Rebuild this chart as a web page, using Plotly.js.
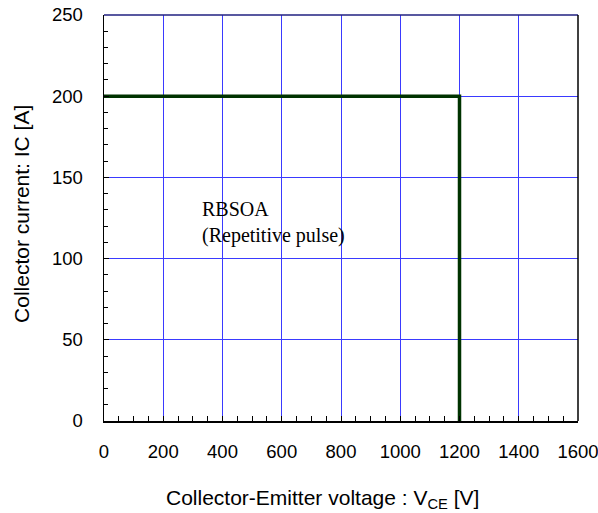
<!DOCTYPE html>
<html>
<head>
<meta charset="utf-8">
<script src="https://cdn.plot.ly/plotly-3.0.1.min.js"></script>
<style>html,body{margin:0;padding:0;background:#fff;}#chart{width:598px;height:513px;}</style>
</head>
<body>
<div id="chart"></div>
<script>
// Reverse-bias safe operating area boundary
var vce = [0, 1200, 1200];
var ic = [200, 200, 0];

var xTicks = [0, 200, 400, 600, 800, 1000, 1200, 1400, 1600];
var yTicks = [0, 50, 100, 150, 200, 250];

var xTitle = 'Collector-Emitter voltage : V<sub>CE</sub> [V]';
var yTitle = 'Collector current: IC [A]';
var areaLabel = 'RBSOA<br>(Repetitive pulse)';

var gridBlue = '#3a3aff';
var sans = 'Liberation Sans, Arial, sans-serif';

var data = [{
  x: vce,
  y: ic,
  mode: 'lines',
  line: {color: '#003300', width: 3.5},
  hoverinfo: 'skip',
  showlegend: false
}];

var layout = {
  width: 598,
  height: 513,
  margin: {l: 104, r: 20, t: 15, b: 92},
  paper_bgcolor: '#ffffff',
  plot_bgcolor: '#ffffff',
  font: {family: sans, size: 18.5, color: '#000'},
  xaxis: {
    range: [0, 1600],
    tickvals: xTicks,
    ticktext: xTicks.map(String),
    showgrid: true,
    gridcolor: gridBlue,
    gridwidth: 1,
    zeroline: false,
    showline: true,
    linecolor: '#000',
    linewidth: 1.5,
    ticks: 'inside',
    ticklen: 5,
    tickcolor: '#000',
    ticklabelstandoff: 13,
    ticklabeloverflow: 'allow',
    automargin: false,
    minor: {dtick: 50, tick0: 0, ticks: 'inside', ticklen: 5, tickcolor: '#000', showgrid: false}
  },
  yaxis: {
    range: [0, 250],
    tickvals: yTicks,
    ticktext: yTicks.map(String),
    showgrid: true,
    gridcolor: gridBlue,
    gridwidth: 1,
    zeroline: false,
    showline: true,
    linecolor: '#000',
    linewidth: 1.5,
    ticks: 'inside',
    ticklen: 5,
    tickcolor: '#000',
    ticklabelstandoff: 16,
    ticklabeloverflow: 'allow',
    automargin: false,
    minor: {dtick: 10, tick0: 0, ticks: 'inside', ticklen: 4, tickcolor: '#000', showgrid: false}
  },
  shapes: [
    {type: 'line', xref: 'paper', yref: 'paper', x0: 0, x1: 1, y0: 1, y1: 1, line: {color: '#202080', width: 1.5}},
    {type: 'line', xref: 'paper', yref: 'paper', x0: 1, x1: 1, y0: 0, y1: 1, line: {color: '#000', width: 1.5}}
  ],
  annotations: [
    {
      x: 324, y: 122.5, xref: 'x', yref: 'y',
      xanchor: 'left', yanchor: 'middle', align: 'left',
      showarrow: false,
      text: areaLabel,
      font: {family: 'Liberation Serif, Times New Roman, serif', size: 20, color: '#000'}
    },
    {
      x: 0.461, y: -0.193, xref: 'paper', yref: 'paper',
      xanchor: 'center', yanchor: 'middle',
      showarrow: false,
      text: xTitle,
      font: {family: sans, size: 21, color: '#000'}
    },
    {
      x: -0.173, y: 0.51, xref: 'paper', yref: 'paper',
      xanchor: 'center', yanchor: 'middle', textangle: -90,
      showarrow: false,
      text: yTitle,
      font: {family: sans, size: 21, color: '#000'}
    }
  ]
};

Plotly.newPlot('chart', data, layout, {displayModeBar: false, staticPlot: true});
</script>
</body>
</html>
